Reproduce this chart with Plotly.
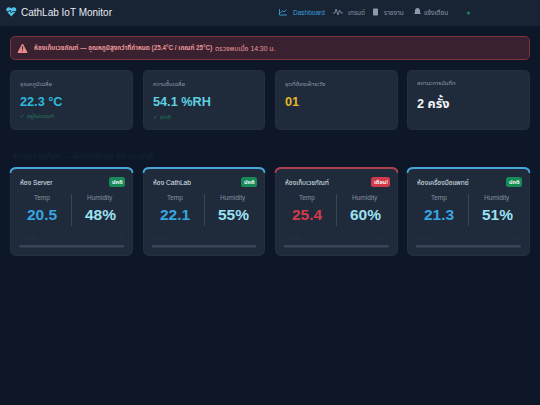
import plotly.graph_objects as go

FONT = "Liberation Sans, Noto Sans, Noto Sans Thai, sans-serif"
BG = "#0d1727"
NAV = "#182334"
CARD = "#1f2a3b"
CARD_LINE = "#243042"

brand = "CathLab IoT Monitor"
nav_labels = ["Dashboard", "เทรนด์", "รายงาน", "แจ้งเตือน"]
nav_text_x = [292, 347, 383, 423]
nav_colors = ["#3b9fdc", "#8d99a8", "#8d99a8", "#8d99a8"]
alert_bold = "ห้องเก็บเวชภัณฑ์ — อุณหภูมิสูงกว่าที่กำหนด (25.4°C / เกณฑ์ 25°C)"
alert_rest = "ตรวจพบเมื่อ 14:30 น."

kpi_titles = ["อุณหภูมิเฉลี่ย", "ความชื้นเฉลี่ย", "จุดที่ต้องเฝ้าระวัง", "สถานะการบันทึก"]
kpi_values = ["22.3 °C", "54.1 %RH", "01", "2 ครั้ง"]
kpi_colors = ["#2fb9dc", "#5fd0e2", "#e5b62c", "#f1f4f8"]
kpi_notes = ["✓ อยู่ในเกณฑ์", "✓ ปกติ", "ห้องเก็บเวชภัณฑ์", "วันนี้ ครบตามรอบเวลาที่กำหนด"]
kpi_note_colors = ["#1f7a56", "#1f7a56", "#232f40", "#232f40"]

section_title = "สถานะรายห้อง — อัปเดตล่าสุด ทุก 30 นาที"
rooms = ["ห้อง Server", "ห้อง CathLab", "ห้องเก็บเวชภัณฑ์", "ห้องเครื่องมือแพทย์"]
temps = ["20.5", "22.1", "25.4", "21.3"]
humidity = ["48%", "55%", "60%", "51%"]
status = ["ปกติ", "ปกติ", "เตือน!", "ปกติ"]
is_alert = [False, False, True, False]

card_x0 = [10, 143, 275, 407]
card_x1 = [133, 265, 398, 530]

shapes, notes = [], []


def rrect(x0, y0, x1, y1, r):
    return (f"M{x0+r},{y0} L{x1-r},{y0} Q{x1},{y0} {x1},{y0+r} L{x1},{y1-r} Q{x1},{y1} {x1-r},{y1} "
            f"L{x0+r},{y1} Q{x0},{y1} {x0},{y1-r} L{x0},{y0+r} Q{x0},{y0} {x0+r},{y0} Z")


def box(x0, y0, x1, y1, r, fill, line=None, w=1):
    shapes.append(dict(type="path", xref="x", yref="y", path=rrect(x0, y0, x1, y1, r), fillcolor=fill,
                       line=dict(color=line or fill, width=w if line else 0), layer="below"))


def poly(path, fill=None, line=None, w=1):
    shapes.append(dict(type="path", xref="x", yref="y", path=path, fillcolor=fill or "rgba(0,0,0,0)",
                       line=dict(color=line or "rgba(0,0,0,0)", width=w if line else 0), layer="below"))


def text(x, y, s, size, color, anchor="left", bold=False):
    notes.append(dict(x=x, y=y, xref="x", yref="y", text=f"<b>{s}</b>" if bold else s, showarrow=False,
                      xanchor=anchor, yanchor="middle", align=anchor,
                      font=dict(family=FONT, size=size, color=color), borderpad=0))


# navbar
shapes.append(dict(type="rect", xref="x", yref="y", x0=0, x1=540, y0=0, y1=26, fillcolor=NAV, line_width=0, layer="below"))
poly("M11.3,16.5 L6.8,11.5 Q5.6,9.5 6.8,8 Q9,6.3 11.3,8.4 Q13.6,6.3 15.8,8 Q17,9.5 15.8,11.5 Z", fill="#4fc3e8")
poly("M6,11.5 L9,11.5 L10,10 L11.3,13 L12.5,11.5 L16.5,11.5", line="#182334", w=0.8)
text(19.5, 12.5, brand, 10, "#e6ebf1")
for x, label, c in zip(nav_text_x, nav_labels, nav_colors):
    text(x, 12.5, label, 6.5, c)
poly("M279.5,9 L279.5,15 L287,15", line="#3b9fdc", w=0.9)
poly("M280.5,13 L282.5,10.8 L284,12 L286.5,9.5", line="#3b9fdc", w=0.9)
poly("M333,13 L335,13 L336,9 L338,15 L339.5,10 L341,13 L343,13", line="#8d99a8", w=0.8)
box(373, 8.5, 378, 15.5, 0.8, "#8d99a8")
poly("M414,14 L421,14 L420,12.5 L420,10 Q419.5,8 417.5,8 Q415.5,8 415,10 L415,12.5 Z", fill="#8d99a8")
shapes.append(dict(type="circle", xref="x", yref="y", x0=467, x1=470, y0=11.5, y1=14.5, fillcolor="#1d8a58", line_width=0, layer="below"))

# alert
box(10.5, 36.5, 529.5, 59.5, 5, "#3a2130", "#7d3340", 1)
poly("M22.5,44 L27,52.5 L18,52.5 Z", fill="#e98a8c", line="#e98a8c", w=1)
poly("M22.5,46.3 L22.5,49.7", line="#3a2130", w=1)
poly("M22.5,50.5 L22.5,51.4", line="#3a2130", w=1)
text(33, 47.5, alert_bold, 6.3, "#e9989b", bold=True)
text(214, 47.5, alert_rest, 6.8, "#e9989b")

# KPI cards
for i in range(4):
    x0, x1 = card_x0[i], card_x1[i]
    box(x0 + .5, 70.5, x1 - .5, 129.5, 5, CARD, CARD_LINE, 1)
    text(x0 + 9, 83, kpi_titles[i], 6, "#8d99a8")
    text(x0 + 8.5, 102, kpi_values[i], 12.7, kpi_colors[i], bold=True)
    text(x0 + 8.5, 116.5, kpi_notes[i], 6, kpi_note_colors[i])

text(11, 155, section_title, 8, "#141f30", bold=True)

# room cards
for i in range(4):
    x0, x1 = card_x0[i], card_x1[i]
    edge = "#a8404e" if is_alert[i] else "#4aa5d8"
    box(x0 + .5, 167.5, x1 - .5, 255.5, 6, CARD, CARD_LINE, 1)
    poly(f"M{x0+.5},173 Q{x0+.5},168 {x0+7},168 L{x1-7},168 Q{x1-.5},168 {x1-.5},173", line=edge, w=1.8)
    text(x0 + 8.5, 182, rooms[i], 6.6, "#dfe5ec")
    bw = 16 if not is_alert[i] else 19
    box(x1 - 8 - bw, 177, x1 - 8, 187, 2.5, "#d03a4a" if is_alert[i] else "#178a57")
    text(x1 - 8 - bw / 2, 182, status[i], 5.5, "#f5fbf8", "center", True)
    poly(f"M{x0+61.5},194 L{x0+61.5},226", line="#39465a", w=1)
    text(x0 + 32, 198, "Temp", 6.5, "#87929f", "center")
    text(x0 + 90, 198, "Humidity", 6.5, "#87929f", "center")
    text(x0 + 32, 214, temps[i], 15.5, "#cf3c4a" if is_alert[i] else "#36a5e0", "center", True)
    text(x0 + 90, 214, humidity[i], 15.5, "#9be2f2", "center", True)
    text(x0 + 9, 237, "ความชื้น", 5, "#263244")
    text(x1 - 9, 237, status[i], 5, "#263244", "right")
    box(x0 + 9, 245, x1 - 9, 247.5, 1.2, "#39465a")

fig = go.Figure()
fig.update_layout(
    width=540, height=405, margin=dict(l=0, r=0, t=0, b=0), paper_bgcolor=BG, plot_bgcolor=BG,
    xaxis=dict(range=[0, 540], visible=False, fixedrange=True),
    yaxis=dict(range=[405, 0], visible=False, fixedrange=True),
    shapes=shapes, annotations=notes, showlegend=False,
)
fig.write_html("out.html", config=dict(displayModeBar=False),
               post_script="document.body.style.margin='0';document.body.style.background='%s';document.body.style.overflow='hidden';" % BG)
